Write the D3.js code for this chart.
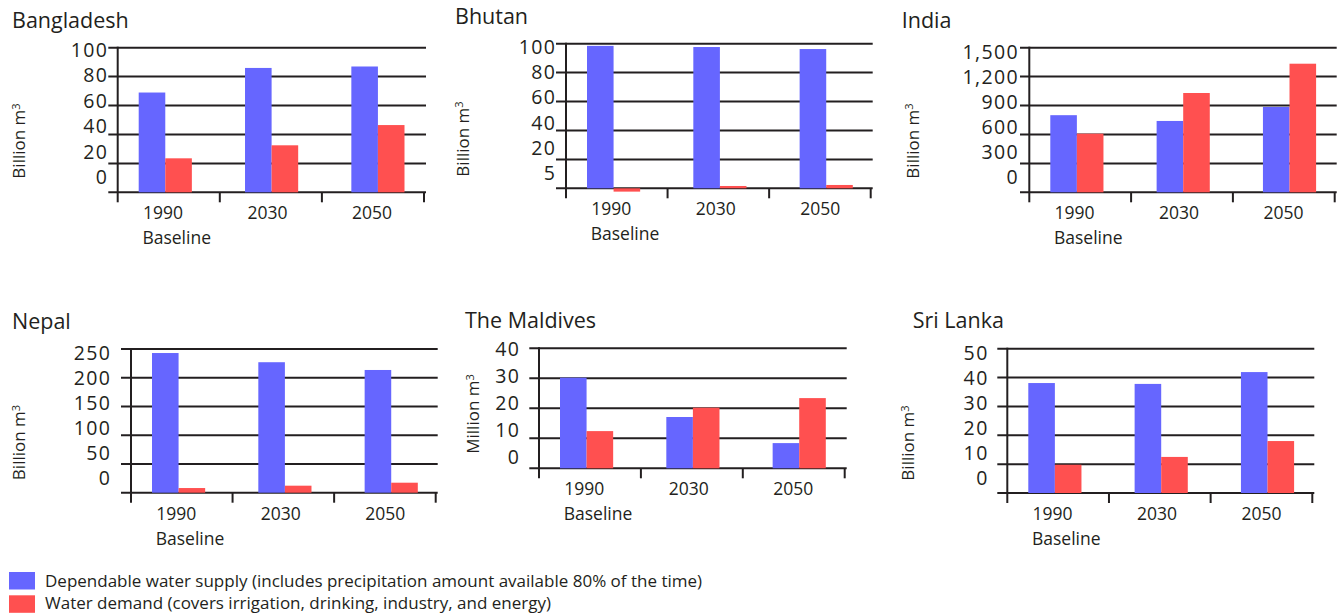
<!DOCTYPE html>
<html>
<head>
<meta charset="utf-8">
<script src="https://cdn.jsdelivr.net/npm/d3@7"></script>
<style>
  body { margin: 0; background: #fff; }
  svg { display: block; font-family: "Open Sans", sans-serif; }
  text { fill: #231f20; }
</style>
</head>
<body>
<svg id="chart" width="1343" height="615"></svg>
<script>
/// DATA ///
const countries = ["Bangladesh", "Bhutan", "India", "Nepal", "The Maldives", "Sri Lanka"];
const years = ["1990", "2030", "2050"];
const units = ["Billion m", "Billion m", "Billion m", "Billion m", "Million m", "Billion m"];

// dependable water supply, per country, per year
const supplyValues = [
  [69, 86, 87],
  [98.5, 97.7, 96.3],
  [800, 740, 885],
  [243, 227, 213.5],
  [30.2, 17.1, 8.4],
  [38.1, 37.8, 41.9]
];

// water demand, per country, per year
const demandValues = [
  [23.5, 32.5, 46.5],
  [-2.3, 1.6, 2.3],
  [608, 1030, 1334],
  [8.1, 12.2, 17.4],
  [12.4, 20.2, 23.4],
  [9.8, 12.5, 18]
];

const yMax = [100, 100, 1500, 250, 40, 50];
const yStep = [20, 20, 300, 50, 10, 10];
const yTickLabels = [
  ["0", "20", "40", "60", "80", "100"],
  ["5", "20", "40", "60", "80", "100"],
  ["0", "300", "600", "900", "1,200", "1,500"],
  ["0", "50", "100", "150", "200", "250"],
  ["0", "10", "20", "30", "40"],
  ["0", "10", "20", "30", "40", "50"]
];

const seriesKeys = ["supply", "demand"];
const seriesColors = ["#6666ff", "#ff5050"];
const legendLabels = [
  "Dependable water supply (includes precipitation amount available 80% of the time)",
  "Water demand (covers irrigation, drinking, industry, and energy)"
];

/// LAYOUT ///
const panels = [
  { axisX: 117.7, gridX0: 108.3, gridX1: 426, top: 47.7, bottom: 192.3, titleX: 12, titleY: 28, labelRight: 107, labelTop: 50, labelBottom: 177, yTitleX: 19.5, yTitleY: 141 },
  { axisX: 566, gridX0: 556, gridX1: 872.7, top: 43.7, bottom: 188.3, titleX: 455, titleY: 23.5, labelRight: 555, labelTop: 46.7, labelBottom: 173, yTitleX: 462.7, yTitleY: 139 },
  { axisX: 1029.3, gridX0: 1020, gridX1: 1336.7, top: 47.7, bottom: 192.3, titleX: 901.7, titleY: 27.7, labelRight: 1017.7, labelTop: 51.7, labelBottom: 176.7, yTitleX: 912.7, yTitleY: 141 },
  { axisX: 131, gridX0: 121, gridX1: 437.7, top: 349, bottom: 492.7, titleX: 12, titleY: 329.3, labelRight: 110, labelTop: 353.3, labelBottom: 477.7, yTitleX: 19.5, yTitleY: 442.5 },
  { axisX: 539, gridX0: 529.3, gridX1: 846.7, top: 348.3, bottom: 468.3, titleX: 465, titleY: 328.3, labelRight: 519, labelTop: 349, labelBottom: 457, yTitleX: 473.3, yTitleY: 414 },
  { axisX: 1007.3, gridX0: 997.3, gridX1: 1314.3, top: 348.7, bottom: 493, titleX: 912.7, titleY: 328.3, labelRight: 987.3, labelTop: 352.7, labelBottom: 477.7, yTitleX: 908.3, yTitleY: 443 }
];

const ink = "#231f20";
const tickSpacing = 1.4;
const svg = d3.select("#chart");

countries.forEach(function (name, i) {
  const p = panels[i];
  const g = svg.append("g").attr("class", "panel");

  const y = d3.scaleLinear().domain([0, yMax[i]]).range([p.bottom, p.top]);
  // tick labels sit on a slightly squeezed scale, like the original
  const yLabel = d3.scaleLinear().domain([0, yMax[i]]).range([p.labelBottom, p.labelTop]);
  const tickValues = d3.range(0, yMax[i] + yStep[i] / 2, yStep[i]);

  // category slots (ticks) and the bar groups, which drift a bit to the right
  const x = d3.scaleBand().domain(years).range([p.axisX, p.gridX1 - 2]);
  const bw = x.bandwidth();
  const xBars = d3.scaleBand()
    .domain(years)
    .range([p.axisX + 21, p.axisX + 21 + 265.8])
    .paddingInner(0.5)
    .paddingOuter(0);
  const x1 = d3.scaleBand().domain(seriesKeys).range([0, xBars.bandwidth()]);
  const xLabels = d3.scalePoint().domain(years).range([p.axisX + 45.3, p.axisX + 45.3 + 209]);

  // title
  g.append("text")
    .attr("x", p.titleX)
    .attr("y", p.titleY)
    .style("font-size", "21.5px")
    .text(name);

  // gridlines
  g.selectAll(".grid")
    .data(tickValues)
    .enter()
    .append("line")
    .attr("class", "grid")
    .attr("x1", p.gridX0)
    .attr("x2", p.gridX1)
    .attr("y1", (d) => y(d))
    .attr("y2", (d) => y(d))
    .style("stroke", ink)
    .style("stroke-width", 2);

  // bars
  const rows = years.map((yr, j) => ({
    year: yr,
    supply: supplyValues[i][j],
    demand: demandValues[i][j]
  }));

  g.selectAll(".year")
    .data(rows)
    .enter()
    .append("g")
    .attr("transform", (d) => `translate(${xBars(d.year)},0)`)
    .selectAll("rect")
    .data((d) => seriesKeys.map((k, s) => ({ key: k, value: d[k], color: seriesColors[s] })))
    .enter()
    .append("rect")
    .attr("x", (d) => x1(d.key))
    .attr("width", x1.bandwidth())
    .attr("y", (d) => Math.min(y(0), y(d.value)))
    .attr("height", (d) => Math.abs(y(0) - y(d.value)))
    .style("fill", (d) => d.color);

  // vertical axis line
  g.append("line")
    .attr("x1", p.axisX)
    .attr("x2", p.axisX)
    .attr("y1", p.top - 1)
    .attr("y2", p.bottom + 10)
    .style("stroke", ink)
    .style("stroke-width", 2);

  // category ticks
  const tickXs = years.map((yr) => x(yr) + bw);
  g.selectAll(".xtick")
    .data(tickXs)
    .enter()
    .append("line")
    .attr("x1", (d) => d)
    .attr("x2", (d) => d)
    .attr("y1", p.bottom)
    .attr("y2", p.bottom + 10)
    .style("stroke", ink)
    .style("stroke-width", 2);

  // y tick labels
  g.selectAll(".ylab")
    .data(tickValues)
    .enter()
    .append("text")
    .attr("x", p.labelRight + tickSpacing)
    .attr("y", (d) => yLabel(d))
    .attr("dy", "0.36em")
    .attr("text-anchor", "end")
    .style("font-size", "19.5px")
    .style("letter-spacing", tickSpacing + "px")
    .text((d, k) => yTickLabels[i][k]);

  // category labels
  g.selectAll(".xlab")
    .data(years)
    .enter()
    .append("text")
    .attr("x", (d) => xLabels(d))
    .attr("y", p.bottom + 27)
    .attr("text-anchor", "middle")
    .style("font-size", "17.5px")
    .text((d) => d);

  g.append("text")
    .attr("x", p.axisX + 59)
    .attr("y", p.bottom + 52)
    .attr("text-anchor", "middle")
    .style("font-size", "17.5px")
    .text("Baseline");

  // y axis title with superscript
  const yt = g.append("text")
    .attr("transform", `translate(${p.yTitleX},${p.yTitleY}) rotate(-90)`)
    .attr("text-anchor", "middle")
    .attr("dy", "0.35em")
    .style("font-size", "17px");
  yt.append("tspan").text(units[i]);
  yt.append("tspan")
    .attr("dy", "-0.5em")
    .style("font-size", "11px")
    .text("3");
});

/// LEGEND ///
const legend = svg.append("g").attr("class", "legend");
legend.selectAll("rect")
  .data(legendLabels)
  .enter()
  .append("rect")
  .attr("x", 9)
  .attr("y", (d, k) => 572 + k * 23.3)
  .attr("width", 26)
  .attr("height", 17.5)
  .style("fill", (d, k) => seriesColors[k]);

legend.selectAll("text")
  .data(legendLabels)
  .enter()
  .append("text")
  .attr("x", 45)
  .attr("y", (d, k) => 586.5 + k * 22.5)
  .style("font-size", "17px")
  .text((d) => d);
</script>
</body>
</html>
